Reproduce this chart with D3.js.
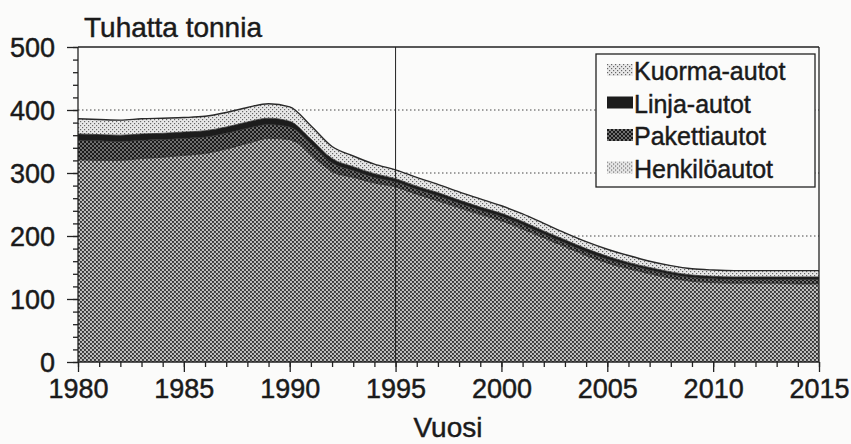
<!DOCTYPE html>
<html>
<head>
<meta charset="utf-8">
<script src="https://cdn.jsdelivr.net/npm/d3@7"></script>
<style>
  body { margin: 0; background: #fbfbfa; }
  svg { font-family: "Liberation Sans", Arial, sans-serif; }
  svg text { fill: #1a1a1a; stroke: #1a1a1a; stroke-width: 0.45; }
  .axis text { font-size: 27px; }
  .axis path { display: none; }
  .axis line { stroke: #222; stroke-width: 1.3; }
</style>
</head>
<body>
<div id="chart"></div>
<script>
var years = d3.range(1980, 2016);
// thousand tonnes
var henkiloautot = [321, 320, 320, 323, 325, 328, 331, 338, 347, 355, 353, 329, 302, 293, 284, 278, 266, 256, 245, 234, 224, 211, 197, 183, 169, 157, 148, 140, 133, 128, 126, 125, 125, 125, 124, 124];
var pakettiautot = [31, 31, 30, 29, 28, 27, 26, 25, 24, 22, 20, 17, 14, 11, 9, 8, 8, 8, 7, 7, 7, 7, 6, 6, 6, 6, 6, 6, 6, 6, 6, 6, 6, 6, 7, 7];
var linjaautot = [10, 10, 10, 10, 10, 10, 10, 10, 10, 10, 9, 8, 7, 6, 6, 5, 5, 5, 5, 5, 5, 5, 5, 5, 5, 5, 4, 4, 4, 4, 4, 4, 4, 4, 4, 4];
var kuormaautot = [24, 24, 24, 24, 24, 23, 23, 23, 23, 23, 23, 21, 19, 17, 15, 14, 14, 13, 13, 13, 12, 12, 12, 11, 11, 11, 11, 10, 10, 10, 10, 10, 10, 10, 10, 10];
var seriesNames = ["Henkilöautot", "Pakettiautot", "Linja-autot", "Kuorma-autot"];
var yTicks = [0, 100, 200, 300, 400, 500];
var xTicks = [1980, 1985, 1990, 1995, 2000, 2005, 2010, 2015];

var width = 851, height = 444,
    margin = { top: 47, right: 32, bottom: 82, left: 78 },
    w = width - margin.left - margin.right,
    h = height - margin.top - margin.bottom;

var table = years.map(function(y, i) {
  return { year: y, "Henkilöautot": henkiloautot[i], "Pakettiautot": pakettiautot[i],
           "Linja-autot": linjaautot[i], "Kuorma-autot": kuormaautot[i] };
});

var svg = d3.select("#chart").append("svg")
    .attr("width", width).attr("height", height);

// halftone-like fills
var defs = svg.append("defs");
function dots(id, bg, fg, size) {
  var p = defs.append("pattern").attr("id", id)
      .attr("patternUnits", "userSpaceOnUse").attr("width", 4).attr("height", 4);
  p.append("rect").attr("width", 4).attr("height", 4).attr("fill", bg);
  p.append("rect").attr("x", 0).attr("y", 0).attr("width", size).attr("height", size).attr("fill", fg);
  p.append("rect").attr("x", 2).attr("y", 2).attr("width", size).attr("height", size).attr("fill", fg);
}
dots("pH", "#bdbdbd", "#333", 1.9);
dots("pP", "#6e6e6e", "#1a1a1a", 2);
dots("pK", "#e8e8e8", "#666", 1.2);
var fills = { "Henkilöautot": "url(#pH)", "Pakettiautot": "url(#pP)", "Linja-autot": "#1c1c1c", "Kuorma-autot": "url(#pK)" };
var legendFills = { "Henkilöautot": "url(#pK)", "Pakettiautot": "url(#pP)", "Linja-autot": "#1c1c1c", "Kuorma-autot": "url(#pK)" };

var g = svg.append("g").attr("transform", "translate(" + margin.left + "," + margin.top + ")");

var x = d3.scaleLinear().domain([1980, 2015]).range([0, w]);
var y = d3.scaleLinear().domain([0, 500]).range([h, 0]);

// dotted gridlines
g.selectAll(".grid").data([100, 200, 300, 400]).enter().append("line")
    .attr("x1", 0).attr("x2", w)
    .attr("y1", function(d) { return y(d); }).attr("y2", function(d) { return y(d); })
    .attr("stroke", "#444").attr("stroke-width", 1).attr("stroke-dasharray", "1.5,2.5");

var stack = d3.stack().keys(seriesNames);
var layers = stack(table);

var area = d3.area()
    .x(function(d) { return x(d.data.year); })
    .y0(function(d) { return y(d[0]); })
    .y1(function(d) { return y(d[1]); })
    .curve(d3.curveMonotoneX);

g.selectAll(".layer").data(layers).enter().append("path")
    .attr("d", area)
    .attr("fill", function(d) { return fills[d.key]; });

var topLine = d3.line()
    .x(function(d) { return x(d.data.year); })
    .y(function(d) { return y(d[1]); })
    .curve(d3.curveMonotoneX);
g.selectAll(".edge").data(layers).enter().append("path")
    .attr("d", topLine)
    .attr("fill", "none").attr("stroke", "#2a2a2a")
    .attr("stroke-width", function(d) { return d.key === "Kuorma-autot" ? 1.4 : 0.8; });

// frame
g.append("line").attr("x1", 0).attr("x2", w).attr("y1", 0).attr("y2", 0).attr("stroke", "#222").attr("stroke-width", 1.3);
g.append("line").attr("x1", w).attr("x2", w).attr("y1", 0).attr("y2", h).attr("stroke", "#222").attr("stroke-width", 1.3);
g.append("line").attr("x1", 0).attr("x2", 0).attr("y1", 0).attr("y2", h).attr("stroke", "#222").attr("stroke-width", 1.3);
g.append("line").attr("x1", 0).attr("x2", w).attr("y1", h).attr("y2", h).attr("stroke", "#222").attr("stroke-width", 1.3);
g.append("line").attr("x1", x(1995)).attr("x2", x(1995)).attr("y1", 0).attr("y2", h).attr("stroke", "#222").attr("stroke-width", 1);

// axes
g.append("g").attr("class", "axis")
    .call(d3.axisLeft(y).tickValues(d3.range(0, 501, 20)).tickSize(5).tickFormat(""));
g.append("g").attr("class", "axis")
    .call(d3.axisLeft(y).tickValues(yTicks).tickSize(11).tickPadding(12).tickFormat(d3.format("d")))
    .selectAll("text").attr("dy", "0.36em");

g.append("g").attr("class", "axis").attr("transform", "translate(0," + h + ")")
    .call(d3.axisBottom(x).tickValues(years).tickSize(5).tickFormat(""));
g.append("g").attr("class", "axis").attr("transform", "translate(0," + h + ")")
    .call(d3.axisBottom(x).tickValues(xTicks).tickSize(10).tickPadding(7).tickFormat(d3.format("d")));

svg.append("text").text("Tuhatta tonnia").attr("x", 84).attr("y", 37)
    .attr("font-size", 28);
svg.append("text").text("Vuosi").attr("x", 448).attr("y", 437)
    .attr("text-anchor", "middle").attr("font-size", 28);

// legend
var legend = svg.append("g").attr("transform", "translate(596,54)");
legend.append("rect").attr("width", 219).attr("height", 133)
    .attr("fill", "#fbfbfa").attr("stroke", "#222").attr("stroke-width", 1.3);
var items = legend.selectAll(".item").data(seriesNames.slice().reverse()).enter().append("g")
    .attr("transform", function(d, i) { return "translate(11," + (26 + i * 32.5) + ")"; });
items.append("rect").attr("x", 0).attr("y", -16).attr("width", 26).attr("height", 12)
    .attr("fill", function(d) { return legendFills[d]; });
items.append("text").text(function(d) { return d; })
    .attr("x", 27).attr("y", 0).attr("font-size", 25);
</script>
</body>
</html>
